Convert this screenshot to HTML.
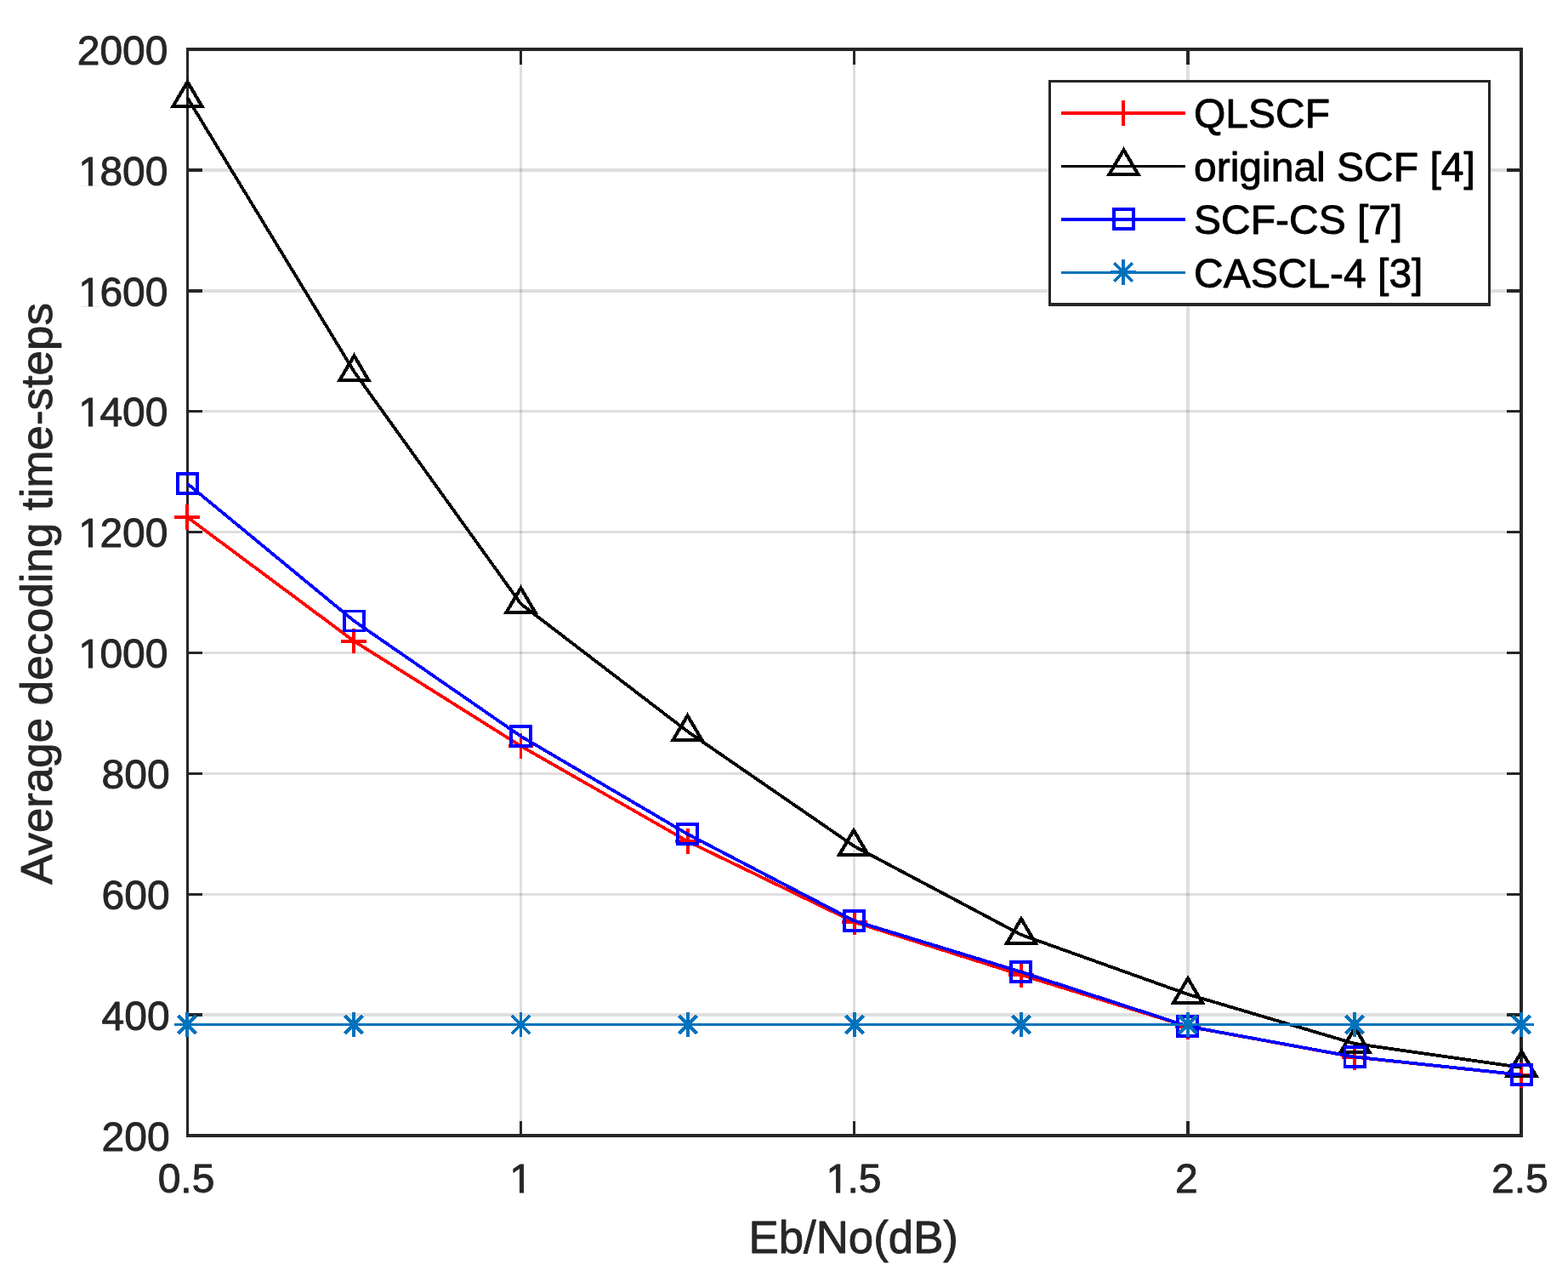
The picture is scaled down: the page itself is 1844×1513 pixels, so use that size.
<!DOCTYPE html>
<html lang="en">
<head>
<meta charset="utf-8">
<title>Average decoding time-steps vs Eb/No</title>
<style>
html,body{margin:0;padding:0;background:#fff;}
body{width:1844px;height:1513px;overflow:hidden;}
svg{display:block;}
text{font-family:"Liberation Sans",Arial,Helvetica,sans-serif;stroke-linejoin:round;}
.tk{font-size:48px;fill:#262626;stroke:#262626;stroke-width:0.9px;}
.lb{font-size:52.8px;fill:#262626;stroke:#262626;stroke-width:0.9px;}
.lg{font-size:48px;fill:#000;stroke:#000;stroke-width:0.9px;}
</style>
</head>
<body>
<svg width="1844" height="1513" viewBox="0 0 1844 1513">
<rect width="1844" height="1513" fill="#fff"/>
<g fill="#262626" fill-opacity="0.15" shape-rendering="crispEdges"><rect x="611" y="58.05" width="3" height="1277"/><rect x="1003" y="58.05" width="3" height="1277"/><rect x="1395" y="58.05" width="4" height="1277"/><rect x="220.5" y="1191" width="1568.4" height="4"/><rect x="220.5" y="1050" width="1568.4" height="3"/><rect x="220.5" y="908" width="1568.4" height="3"/><rect x="220.5" y="766" width="1568.4" height="3"/><rect x="220.5" y="624" width="1568.4" height="3"/><rect x="220.5" y="482" width="1568.4" height="3"/><rect x="220.5" y="340" width="1568.4" height="4"/><rect x="220.5" y="198" width="1568.4" height="4"/></g>
<g fill="#262626" shape-rendering="crispEdges"><rect x="219" y="56" width="1572" height="4"/><rect x="219" y="1333" width="1572" height="4"/><rect x="219" y="58.05" width="3" height="1277"/><rect x="1787" y="58.05" width="4" height="1277"/><rect x="611" y="1318" width="3" height="17.05"/><rect x="611" y="58.05" width="3" height="17.95"/><rect x="1003" y="1318" width="3" height="17.05"/><rect x="1003" y="58.05" width="3" height="17.95"/><rect x="1395" y="1318" width="4" height="17.05"/><rect x="1395" y="58.05" width="4" height="17.95"/><rect x="220.5" y="1191" width="17.5" height="4"/><rect x="1772" y="1191" width="16.9" height="4"/><rect x="220.5" y="1050" width="17.5" height="3"/><rect x="1772" y="1050" width="16.9" height="3"/><rect x="220.5" y="908" width="17.5" height="3"/><rect x="1772" y="908" width="16.9" height="3"/><rect x="220.5" y="766" width="17.5" height="3"/><rect x="1772" y="766" width="16.9" height="3"/><rect x="220.5" y="624" width="17.5" height="3"/><rect x="1772" y="624" width="16.9" height="3"/><rect x="220.5" y="482" width="17.5" height="3"/><rect x="1772" y="482" width="16.9" height="3"/><rect x="220.5" y="340" width="17.5" height="4"/><rect x="1772" y="340" width="16.9" height="4"/><rect x="220.5" y="198" width="17.5" height="4"/><rect x="1772" y="198" width="16.9" height="4"/></g>
<text class="tk" x="185.64" y="1402">0.5</text><text class="tk" x="597.75" y="1402"><tspan dx="1.6">1</tspan></text><text class="tk" x="969.84" y="1402"><tspan dx="1.6">1</tspan><tspan dx="-1.6">.5</tspan></text><text class="tk" x="1381.95" y="1402">2</text><text class="tk" x="1754.04" y="1402">2.5</text><text class="tk" x="119.51" y="1352.75">200</text><text class="tk" x="119.51" y="1210.86">400</text><text class="tk" x="119.51" y="1068.97">600</text><text class="tk" x="119.51" y="927.08">800</text><text class="tk" x="90.72" y="785.19"><tspan dx="1.6">1</tspan><tspan dx="-1.6">000</tspan></text><text class="tk" x="90.72" y="643.31"><tspan dx="1.6">1</tspan><tspan dx="-1.6">200</tspan></text><text class="tk" x="90.72" y="501.42"><tspan dx="1.6">1</tspan><tspan dx="-1.6">400</tspan></text><text class="tk" x="90.72" y="359.53"><tspan dx="1.6">1</tspan><tspan dx="-1.6">600</tspan></text><text class="tk" x="90.72" y="217.64"><tspan dx="1.6">1</tspan><tspan dx="-1.6">800</tspan></text><text class="tk" x="90.72" y="75.75">2000</text>
<g fill="#fff"><rect x="601.81" y="1397.41" width="9.16" height="5.79"/><rect x="616.11" y="1397.41" width="8.79" height="5.79"/><rect x="973.89" y="1397.41" width="9.16" height="5.79"/><rect x="988.2" y="1397.41" width="8.79" height="5.79"/><rect x="94.77" y="780.61" width="9.16" height="5.79"/><rect x="109.08" y="780.61" width="8.79" height="5.79"/><rect x="94.77" y="638.72" width="9.16" height="5.79"/><rect x="109.08" y="638.72" width="8.79" height="5.79"/><rect x="94.77" y="496.83" width="9.16" height="5.79"/><rect x="109.08" y="496.83" width="8.79" height="5.79"/><rect x="94.77" y="354.94" width="9.16" height="5.79"/><rect x="109.08" y="354.94" width="8.79" height="5.79"/><rect x="94.77" y="213.05" width="9.16" height="5.79"/><rect x="109.08" y="213.05" width="8.79" height="5.79"/></g>
<text class="lb" x="1003.7" y="1472.5" text-anchor="middle">Eb/No(dB)</text>
<text class="lb" transform="translate(60.6 698) rotate(-90) scale(1.0015 0.98)" text-anchor="middle">Average decoding time-steps</text>
<polyline points="220.3,608 416.36,753.75 612.42,877 808.48,989 1004.54,1084 1200.6,1146 1396.66,1206.7 1592.72,1242.7 1788.78,1263.7" stroke="#ff0000" stroke-width="3.8" fill="none" stroke-linejoin="round" shape-rendering="crispEdges"/><path d="M205 606H235V610H205ZM218 593H222V623H218Z" fill="#ff0000" shape-rendering="crispEdges"/><path d="M401 752H431V756H401ZM414 739H418V768H414Z" fill="#ff0000" shape-rendering="crispEdges"/><path d="M598 875H627V879H598ZM611 862H614V892H611Z" fill="#ff0000" shape-rendering="crispEdges"/><path d="M794 987H824V991H794ZM807 974H811V1004H807Z" fill="#ff0000" shape-rendering="crispEdges"/><path d="M990 1082H1020V1086H990ZM1003 1069H1007V1099H1003Z" fill="#ff0000" shape-rendering="crispEdges"/><path d="M1186 1144H1216V1148H1186ZM1199 1131H1203V1161H1199Z" fill="#ff0000" shape-rendering="crispEdges"/><path d="M1382 1205H1412V1209H1382ZM1395 1192H1399V1222H1395Z" fill="#ff0000" shape-rendering="crispEdges"/><path d="M1578 1241H1608V1245H1578ZM1591 1228H1595V1258H1591Z" fill="#ff0000" shape-rendering="crispEdges"/><path d="M1774 1262H1804V1266H1774ZM1787 1249H1791V1279H1787Z" fill="#ff0000" shape-rendering="crispEdges"/>
<polyline points="220.3,114.8 416.36,436.8 612.42,709.8 808.48,859.8 1004.54,994.8 1200.6,1098.8 1396.66,1168.8 1592.72,1226.8 1788.78,1254.8" stroke="#000000" stroke-width="3.8" fill="none" stroke-linejoin="round" shape-rendering="crispEdges"/><path d="M220.5 96.2L237.5 124.98L203.5 124.98Z" stroke="#000000" stroke-width="4.1" stroke-linejoin="miter" stroke-miterlimit="10" fill="none" shape-rendering="crispEdges"/><path d="M416.5 418.2L433.5 446.98L399.5 446.98Z" stroke="#000000" stroke-width="4.1" stroke-linejoin="miter" stroke-miterlimit="10" fill="none" shape-rendering="crispEdges"/><path d="M612.5 691.2L629.5 719.98L595.5 719.98Z" stroke="#000000" stroke-width="4.1" stroke-linejoin="miter" stroke-miterlimit="10" fill="none" shape-rendering="crispEdges"/><path d="M808.5 841.2L825.5 869.98L791.5 869.98Z" stroke="#000000" stroke-width="4.1" stroke-linejoin="miter" stroke-miterlimit="10" fill="none" shape-rendering="crispEdges"/><path d="M1004 976.2L1021 1004.98L987 1004.98Z" stroke="#000000" stroke-width="4.1" stroke-linejoin="miter" stroke-miterlimit="10" fill="none" shape-rendering="crispEdges"/><path d="M1201 1080.2L1218 1108.98L1184 1108.98Z" stroke="#000000" stroke-width="4.1" stroke-linejoin="miter" stroke-miterlimit="10" fill="none" shape-rendering="crispEdges"/><path d="M1397 1150.2L1414 1178.98L1380 1178.98Z" stroke="#000000" stroke-width="4.1" stroke-linejoin="miter" stroke-miterlimit="10" fill="none" shape-rendering="crispEdges"/><path d="M1593.5 1208.2L1610.5 1236.98L1576.5 1236.98Z" stroke="#000000" stroke-width="4.1" stroke-linejoin="miter" stroke-miterlimit="10" fill="none" shape-rendering="crispEdges"/><path d="M1789.5 1236.2L1806.5 1264.98L1772.5 1264.98Z" stroke="#000000" stroke-width="4.1" stroke-linejoin="miter" stroke-miterlimit="10" fill="none" shape-rendering="crispEdges"/>
<polyline points="220.3,568.5 416.36,730 612.42,865.5 808.48,980.5 1004.54,1082.5 1200.6,1142.5 1396.66,1206.5 1592.72,1242.5 1788.78,1263.5" stroke="#0000ff" stroke-width="3.8" fill="none" stroke-linejoin="round" shape-rendering="crispEdges"/><path d="M207 555H234V582H207ZM211 559H230V578H211Z" fill="#0000ff" fill-rule="evenodd" shape-rendering="crispEdges"/><path d="M403 717H430V743H403ZM407 720H426V740H407Z" fill="#0000ff" fill-rule="evenodd" shape-rendering="crispEdges"/><path d="M599 852H626V879H599ZM603 856H622V875H603Z" fill="#0000ff" fill-rule="evenodd" shape-rendering="crispEdges"/><path d="M795 967H822V994H795ZM799 971H818V990H799Z" fill="#0000ff" fill-rule="evenodd" shape-rendering="crispEdges"/><path d="M991 1069H1018V1096H991ZM995 1073H1014V1092H995Z" fill="#0000ff" fill-rule="evenodd" shape-rendering="crispEdges"/><path d="M1187 1129H1214V1156H1187ZM1191 1133H1210V1152H1191Z" fill="#0000ff" fill-rule="evenodd" shape-rendering="crispEdges"/><path d="M1383 1193H1410V1220H1383ZM1387 1197H1406V1216H1387Z" fill="#0000ff" fill-rule="evenodd" shape-rendering="crispEdges"/><path d="M1580 1229H1607V1256H1580ZM1583 1233H1603V1252H1583Z" fill="#0000ff" fill-rule="evenodd" shape-rendering="crispEdges"/><path d="M1776 1250H1803V1277H1776ZM1780 1254H1799V1273H1780Z" fill="#0000ff" fill-rule="evenodd" shape-rendering="crispEdges"/>
<rect x="220.3" y="1203" width="1568.48" height="3" fill="#0072bd" shape-rendering="crispEdges"/><path d="M205 1203H235V1206H205ZM218 1190H222V1219H218Z" fill="#0072bd" shape-rendering="crispEdges"/><path d="M209.4 1193.9L230.6 1215.1M209.4 1215.1L230.6 1193.9" stroke="#0072bd" stroke-width="3.6" fill="none" shape-rendering="crispEdges"/><path d="M401 1203H431V1206H401ZM414 1190H418V1219H414Z" fill="#0072bd" shape-rendering="crispEdges"/><path d="M405.4 1193.9L426.6 1215.1M405.4 1215.1L426.6 1193.9" stroke="#0072bd" stroke-width="3.6" fill="none" shape-rendering="crispEdges"/><path d="M598 1203H628V1206H598ZM611 1190H614V1219H611Z" fill="#0072bd" shape-rendering="crispEdges"/><path d="M601.9 1193.9L623.1 1215.1M601.9 1215.1L623.1 1193.9" stroke="#0072bd" stroke-width="3.6" fill="none" shape-rendering="crispEdges"/><path d="M794 1203H824V1206H794ZM807 1190H811V1219H807Z" fill="#0072bd" shape-rendering="crispEdges"/><path d="M798.4 1193.9L819.6 1215.1M798.4 1215.1L819.6 1193.9" stroke="#0072bd" stroke-width="3.6" fill="none" shape-rendering="crispEdges"/><path d="M990 1203H1020V1206H990ZM1003 1190H1007V1219H1003Z" fill="#0072bd" shape-rendering="crispEdges"/><path d="M994.4 1193.9L1015.6 1215.1M994.4 1215.1L1015.6 1193.9" stroke="#0072bd" stroke-width="3.6" fill="none" shape-rendering="crispEdges"/><path d="M1186 1203H1216V1206H1186ZM1199 1190H1203V1219H1199Z" fill="#0072bd" shape-rendering="crispEdges"/><path d="M1190.4 1193.9L1211.6 1215.1M1190.4 1215.1L1211.6 1193.9" stroke="#0072bd" stroke-width="3.6" fill="none" shape-rendering="crispEdges"/><path d="M1382 1203H1412V1206H1382ZM1395 1190H1399V1219H1395Z" fill="#0072bd" shape-rendering="crispEdges"/><path d="M1386.4 1193.9L1407.6 1215.1M1386.4 1215.1L1407.6 1193.9" stroke="#0072bd" stroke-width="3.6" fill="none" shape-rendering="crispEdges"/><path d="M1578 1203H1608V1206H1578ZM1591 1190H1595V1219H1591Z" fill="#0072bd" shape-rendering="crispEdges"/><path d="M1582.4 1193.9L1603.6 1215.1M1582.4 1215.1L1603.6 1193.9" stroke="#0072bd" stroke-width="3.6" fill="none" shape-rendering="crispEdges"/><path d="M1774 1203H1804V1206H1774ZM1787 1190H1791V1219H1787Z" fill="#0072bd" shape-rendering="crispEdges"/><path d="M1778.4 1193.9L1799.6 1215.1M1778.4 1215.1L1799.6 1193.9" stroke="#0072bd" stroke-width="3.6" fill="none" shape-rendering="crispEdges"/>
<rect x="1233" y="94" width="520" height="266" fill="#fff"/>
<g fill="#262626" shape-rendering="crispEdges"><rect x="1233" y="94" width="520" height="3"/><rect x="1233" y="356" width="520" height="4"/><rect x="1233" y="94" width="3" height="266"/><rect x="1750" y="94" width="3" height="266"/></g>
<rect x="1248" y="131" width="146" height="4" fill="#ff0000" shape-rendering="crispEdges"/>
<path d="M1306 131H1336V135H1306ZM1319 118H1323V148H1319Z" fill="#ff0000" shape-rendering="crispEdges"/>
<text class="lg" x="1404" y="150.3">QLSCF</text>
<rect x="1248" y="194" width="146" height="3" fill="#000000" shape-rendering="crispEdges"/>
<path d="M1321.5 176.2L1338.5 204.98L1304.5 204.98Z" stroke="#000000" stroke-width="4.1" stroke-linejoin="miter" stroke-miterlimit="10" fill="none" shape-rendering="crispEdges"/>
<text class="lg" x="1404" y="212.8">original SCF [4]</text>
<rect x="1248" y="256" width="146" height="4" fill="#0000ff" shape-rendering="crispEdges"/>
<path d="M1308 244H1335V271H1308ZM1312 248H1331V267H1312Z" fill="#0000ff" fill-rule="evenodd" shape-rendering="crispEdges"/>
<text class="lg" x="1404" y="275.3">SCF-CS [7]</text>
<rect x="1248" y="319" width="146" height="3" fill="#0072bd" shape-rendering="crispEdges"/>
<path d="M1306 318H1336V322H1306ZM1319 305H1323V335H1319Z" fill="#0072bd" shape-rendering="crispEdges"/><path d="M1310.4 309.4L1331.6 330.6M1310.4 330.6L1331.6 309.4" stroke="#0072bd" stroke-width="3.6" fill="none" shape-rendering="crispEdges"/>
<text class="lg" x="1404" y="337.8">CASCL-4 [3]</text>
</svg>
</body>
</html>
